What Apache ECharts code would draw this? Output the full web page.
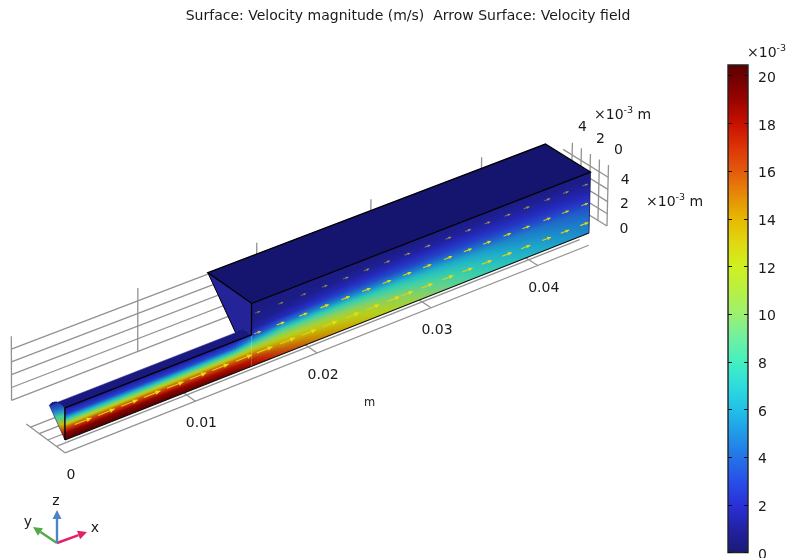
<!DOCTYPE html>
<html><head><meta charset="utf-8">
<style>html,body{margin:0;padding:0;background:#fff}#c{width:788px;height:558px}</style>
<script src="https://cdn.jsdelivr.net/npm/echarts@6/dist/echarts.min.js"></script>
</head><body><div id="c"></div>
<script>
// ---- data (lengths in mm, velocity in 10^-3 m/s)
const titleText = 'Surface: Velocity magnitude (m/s)  Arrow Surface: Velocity field';
const xTickValues = [0, 10, 20, 30, 40];
const xTickLabels = ['0', '0.01', '0.02', '0.03', '0.04'];
const yTickValues = [0, 2, 4];
const yTickLabels = ['0', '2', '4'];
const zTickValues = [0, 2, 4];
const zTickLabels = ['0', '2', '4'];
const barTicks = [0, 2, 4, 6, 8, 10, 12, 14, 16, 18, 20];
const barMax = 20.45;
const paletteValues = [0, 1, 2, 3, 4, 5, 6, 7, 8, 9, 10, 11, 12, 13, 14, 15, 16, 17, 18, 19, 20, 20.45];
const paletteColors = ['#1a1a78','#2222a4','#2a30d8','#2850e8','#2474e8','#209ae8','#22c0e8','#2edcdc','#44f0c0','#70f0a0','#9cf070','#b8f044','#d0f020','#e0d810','#e6b800','#e68a08','#e45a0c','#dc3406','#c81000','#980400','#6e0000','#5c0000'];
const fieldX = [0, 3, 8, 13, 14.5, 17, 20, 23, 26, 30, 34, 38, 42, 45];
const fieldZ = [0, 0.5, 1, 1.5, 2, 2.5, 3, 3.5, 4, 4.5, 5];
const fieldValues = [
 [20.4,19,15.5,8.5,2.8,1,1,1,1,1,1],
 [20.4,19,15.5,8.5,2.8,1,1,1,1,1,1],
 [20.3,18.8,15.3,8.5,2.8,1,1,1,1,1,1],
 [19.5,18,15,9,3.5,1.3,1,1,1,1,1],
 [18.6,17.5,14.8,10.5,6,2.5,1.2,0.9,0.8,0.7,0.7],
 [16.8,15.5,13.5,11,8,4.3,2,1.2,0.8,0.7,0.7],
 [15,14,12.5,10.5,8,4.9,2.6,1.6,1,0.8,0.7],
 [13.7,12.8,11.4,9.8,7.8,5,3,1.9,1.2,0.8,0.7],
 [12.2,11.3,10.2,8.8,7.3,5,3.1,2.1,1.3,0.9,0.7],
 [10,9.3,8.6,7.6,6.5,4.7,3.1,2.2,1.4,1,0.8],
 [8.2,7.7,7.2,6.5,5.6,4.2,2.9,2.1,1.4,1,0.8],
 [7,6.5,6,5.4,4.8,3.6,2.6,1.9,1.4,1,0.8],
 [5.9,5.5,5.1,4.6,4.1,3.1,2.3,1.7,1.3,0.9,0.7],
 [5.1,4.8,4.5,4,3.5,2.7,2,1.5,1.1,0.8,0.7]
];
const inletValues = [1.5, 4, 8, 13, 17, 20];
const arrowRowZ = [0.9, 2.5, 4.1];
const arrowXLow = [1.35,3.1,4.85,6.6,8.4,10.2,12,13.9,15.6,17.5,19.3,21.1,23,24.8,26.6,27.8,29.6,31.5,33.3,35.1,37,38.8,40.8,42.6,44.5];
const arrowXHigh = [15,16.9,18.8,20.6,22.4,24.2,26,27.8,29.6,31.5,33.3,35.1,37,38.8,40.8,42.6,44.5];
const channelArc = [[0,2.5],[0.5,2.56],[1,2.47],[1.5,2.16],[1.8,1.8]];
const stepX = 14.5, lengthX = 45, channelZ = 2.5, bodyZ = 5, bodyY = 5;
const floorYLines = [0,1,2,3,4];
const wallZLines = [0,1,2,3,4];
const wallTickX = [0, 9.7, 19.45, 29.45, 39.8];
const endWallY = [0,1,2,3,4];
const surfaceShade = 0.87;

// ---- view of the 3D scene
function project(x, y, z) {
  const w = 1 + 0.00356 * x;
  return [
    65 + 13.51 * x / w + (-0.05 + 0.0075 * x) * z + y * (-8.62 - 0.0085 * x),
    440 - 5.336 * x / w - (12.82 - 0.0138 * x) * z + y * (-6.4 + 0.0177 * x)
  ];
}
function hexRgb(h) { return [1,3,5].map(i => parseInt(h.substr(i,2),16)); }
function rgbOf(v) {
  const P = paletteValues;
  if (v <= P[0]) return hexRgb(paletteColors[0]);
  for (let i = 1; i < P.length; i++) if (v <= P[i]) {
    const t = (v - P[i-1]) / (P[i] - P[i-1]), a = hexRgb(paletteColors[i-1]), b = hexRgb(paletteColors[i]);
    return a.map((c,k) => c + (b[k]-c)*t);
  }
  return hexRgb(paletteColors[P.length-1]);
}
function colorOf(v) { return 'rgb(' + rgbOf(v).map(c => Math.round(c*surfaceShade)).join(',') + ')'; }
function sample(x, z) {
  let i = 0; while (i < fieldX.length-2 && x > fieldX[i+1]) i++;
  let j = 0; while (j < fieldZ.length-2 && z > fieldZ[j+1]) j++;
  const tx = Math.min(1,(x-fieldX[i])/(fieldX[i+1]-fieldX[i])), tz = Math.min(1,(z-fieldZ[j])/(fieldZ[j+1]-fieldZ[j]));
  const F = fieldValues;
  return (F[i][j]*(1-tz)+F[i][j+1]*tz)*(1-tx) + (F[i+1][j]*(1-tz)+F[i+1][j+1]*tz)*tx;
}
const G = echarts.graphic;
function c3(api, p) { return api.coord(project(p[0], p[1], p[2])); }
function grad(p0, p1, stops) { return new G.LinearGradient(p0[0],p0[1],p1[0],p1[1],stops,true); }

// grid segments in model coordinates
const gridSegments = [];
floorYLines.forEach(y => gridSegments.push([[0,y,-1],[lengthX,y,-1]]));
xTickValues.forEach(x => gridSegments.push([[x,0,-1],[x,4.5,-1]]));
const wallY = 6.2;
wallZLines.forEach(z => gridSegments.push([[0,wallY,z],[44,wallY,z]]));
wallTickX.forEach(x => gridSegments.push([[x,wallY,0],[x,wallY,bodyZ]]));
const endX = 46.8;
wallZLines.forEach(z => gridSegments.push([[endX,0,z],[endX,bodyY,z]]));
endWallY.forEach(y => gridSegments.push([[endX,y,0],[endX,y,bodyZ]]));

// colour strips of the front face
const stripX = [];
for (let x = 0; x < lengthX; x += 0.25) stripX.push(x);
function renderStrip(params, api) {
  const x0 = stripX[params.dataIndex];
  const x1 = Math.min(lengthX, x0 + 0.4);
  const topZ = x0 < stepX ? channelZ : bodyZ;
  const clipX1 = x0 < stepX ? Math.min(stepX, x1) : x1;
  const N = 20, stops = [];
  for (let k = 0; k <= N; k++) stops.push({offset:k/N, color:colorOf(sample(x0+0.125, topZ*k/N))});
  const a = c3(api,[x0,0,0]), b = c3(api,[clipX1,0,0]), c = c3(api,[clipX1,0,topZ]), d = c3(api,[x0,0,topZ]);
  // gradient normal to the long edges so colour bands stay parallel to them
  const ex = c3(api,[x0+1,0,0]), tx = ex[0]-a[0], ty = ex[1]-a[1], tn = Math.hypot(tx,ty);
  const nx = -ty/tn, ny = tx/tn, dd = (d[0]-a[0])*nx + (d[1]-a[1])*ny;
  return {type:'polygon', shape:{points:[a,b,c,d]}, style:{fill:grad(a,[a[0]+nx*dd,a[1]+ny*dd],stops)}};
}
function renderGrid(params, api) {
  const s = gridSegments[params.dataIndex], a = c3(api,s[0]), b = c3(api,s[1]);
  return {type:'line', shape:{x1:a[0],y1:a[1],x2:b[0],y2:b[1]}, style:{stroke:'#929292',lineWidth:1.3}};
}
function renderBody(params, api) {
  const P = pts => pts.map(p => c3(api,p));
  const K = [];
  // inlet face
  const inletArc = channelArc.map(q => [0,q[0],q[1]]);
  const apex = c3(api,[0,0,0]), topArc = c3(api,[0,1.2,2.4]);
  K.push({type:'polygon',shape:{points:P([[0,0,0]].concat(inletArc))},
    style:{fill:grad(topArc,apex,inletValues.map((v,i)=>({offset:i/(inletValues.length-1),color:colorOf(v)}))),stroke:'#1a1a60',lineWidth:0.6}});
  // step face
  const stepArc = channelArc.map(q => [stepX,q[0],q[1]]);
  K.push({type:'polygon',shape:{points:P([[stepX,0,bodyZ],[stepX,bodyY,bodyZ]].concat(stepArc.slice().reverse()))},style:{fill:'#242498',stroke:'#242498',lineWidth:0.5}});
  // channel top
  const farArc = channelArc.map(q => [stepX,q[0],q[1]]).reverse();
  K.push({type:'polygon',shape:{points:P(inletArc.concat(farArc))},style:{fill:'#191980',stroke:'#191980',lineWidth:0.5}});
  // top of the wide part
  K.push({type:'polygon',shape:{points:P([[stepX,0,bodyZ],[lengthX,0,bodyZ],[lengthX,bodyY,bodyZ],[stepX,bodyY,bodyZ]])},style:{fill:'#15156f'}});
  return {type:'group',children:K};
}
function renderEdges(params, api) {
  const P = pts => pts.map(p => c3(api,p));
  const K = [];
  const line = (pts,col,w) => K.push({type:'polyline',shape:{points:P(pts)},style:{fill:null,stroke:col,lineWidth:w}});
  line([[0,0,0],[lengthX,0,0]],'#111',1.1);
  line([[0,0,0],[0,0,channelZ],[stepX,0,channelZ],[stepX,0,bodyZ],[lengthX,0,bodyZ],[lengthX,bodyY,bodyZ],[stepX,bodyY,bodyZ],[stepX,0,bodyZ]],'#000',1.3);
  line([[stepX,bodyY,bodyZ],[stepX,1.8,1.8]],'#000',1);
  line([[lengthX,0,0],[lengthX,0,bodyZ]],'#14145a',0.8);
  return {type:'group',children:K};
}
// arrows
const arrows = [];
arrowRowZ.forEach((z,r) => {
  (r === 0 ? arrowXLow : arrowXHigh).forEach(x => arrows.push([x,z]));
});
function renderArrow(params, api) {
  const q = arrows[params.dataIndex], u = sample(q[0], q[1]);
  const c = c3(api,[q[0],0,q[1]]), e = c3(api,[q[0]+1,0,q[1]]);
  const dx = e[0]-c[0], dy = e[1]-c[1], n = Math.hypot(dx,dy), ux = dx/n, uy = dy/n;
  const len = 5 + 0.8*u, hl = Math.min(5, 1.5+len*0.22), hw = Math.min(2.2, 0.8+len*0.1);
  const tail = [c[0]-ux*len/2, c[1]-uy*len/2], tip = [c[0]+ux*len/2, c[1]+uy*len/2];
  const back = [tip[0]-ux*hl, tip[1]-uy*hl];
  const alpha = Math.min(1, 0.2 + u*0.2);
  return {type:'group',children:[
    {type:'line',shape:{x1:tail[0],y1:tail[1],x2:tip[0],y2:tip[1]},style:{stroke:'#e0d018',lineWidth:1.1,opacity:alpha}},
    {type:'polygon',shape:{points:[tip,[back[0]-uy*hw,back[1]+ux*hw],[back[0]+uy*hw,back[1]-ux*hw]]},style:{fill:'#ecdc10',opacity:alpha}}
  ]};
}
// labels
const labelItems = [];
xTickValues.forEach((x,i) => labelItems.push({t:xTickLabels[i],p:[x,0,-1],off:[6,22.5]}));
yTickValues.forEach((y,i) => labelItems.push({t:yTickLabels[i],p:[endX,y,bodyZ],off:[10,-15]}));
zTickValues.forEach((z,i) => labelItems.push({t:zTickLabels[i],p:[endX,0,z],off:[17,3]}));
function renderLabel(params, api) {
  const L = labelItems[params.dataIndex], a = c3(api,L.p);
  return {type:'text',style:{text:L.t,x:a[0]+L.off[0],y:a[1]+L.off[1],align:'center',verticalAlign:'middle',font:'14px "DejaVu Sans"',fill:'#1a1a1a'}};
}
// orientation triad
const triad = [
 {name:'x',color:'#e2206a',to:[30,-11],lab:[38,-15]},
 {name:'y',color:'#55a84a',to:[-24,-16],lab:[-29,-21]},
 {name:'z',color:'#4a86c4',to:[0,-33],lab:[-1,-42]}
];
const triadOrigin = [57,543];
function renderTriad(params, api) {
  const T = triad[params.dataIndex], O = api.coord(triadOrigin);
  const tip = [O[0]+T.to[0],O[1]+T.to[1]], n = Math.hypot(T.to[0],T.to[1]), ux=T.to[0]/n, uy=T.to[1]/n;
  const b = [tip[0]-ux*9,tip[1]-uy*9], hw=4.5;
  return {type:'group',children:[
    {type:'line',shape:{x1:O[0],y1:O[1],x2:b[0],y2:b[1]},style:{stroke:T.color,lineWidth:2.4}},
    {type:'polygon',shape:{points:[tip,[b[0]-uy*hw,b[1]+ux*hw],[b[0]+uy*hw,b[1]-ux*hw]]},style:{fill:T.color}},
    {type:'text',style:{text:T.name,x:O[0]+T.lab[0],y:O[1]+T.lab[1],align:'center',verticalAlign:'middle',font:'14px "DejaVu Sans"',fill:'#1a1a1a'}}
  ]};
}
function renderBar(params, api) {
  const a = api.coord([0,barMax]), b = api.coord([1,0]);
  const stops = paletteValues.map((v,i) => ({offset:v/barMax,color:paletteColors[i]}));
  return {type:'rect',shape:{x:a[0],y:a[1],width:b[0]-a[0],height:b[1]-a[1]},
    style:{fill:new G.LinearGradient(0,b[1],0,a[1],stops,true),stroke:'#222',lineWidth:1.4}};
}
const sceneSeries = (name, n, fn) => ({type:'custom',name,coordinateSystem:'cartesian2d',xAxisIndex:0,yAxisIndex:0,
  renderItem:fn,data:Array.from({length:n},(_, i)=>[i]),clip:false,silent:true,animation:false,encode:{x:0,y:0}});
const unitRich = {b:{fontSize:14,fontFamily:'DejaVu Sans',color:'#1a1a1a'},s:{fontSize:9.5,fontFamily:'DejaVu Sans',color:'#1a1a1a',padding:[0,0,8,0]}};
const unitText = (x,y,str) => ({type:'text',left:x,top:y,style:{text:str,rich:unitRich,fill:'#1a1a1a'}});
const option = {
  animation:false,
  backgroundColor:'#fff',
  title:{text:titleText,left:403,top:4,textAlign:'center',textStyle:{fontFamily:'DejaVu Sans',fontSize:14,fontWeight:'normal',color:'#1a1a1a'}},
  grid:[
    {left:0,top:0,width:788,height:558,outerBoundsMode:'none'},
    {left:728,top:65,width:20,height:487.5,outerBoundsMode:'none'}
  ],
  xAxis:[
    {type:'value',min:0,max:788,show:false,gridIndex:0},
    {type:'value',min:0,max:1,show:false,gridIndex:1}
  ],
  yAxis:[
    {type:'value',min:0,max:558,inverse:true,show:false,gridIndex:0},
    {type:'value',gridIndex:1,min:0,max:barMax,interval:2,position:'left',z:5,axisLine:{show:false},splitLine:{show:false},axisLabel:{show:false},axisTick:{inside:true,length:4,lineStyle:{color:'#111',width:1},customValues:barTicks}},
    {type:'value',gridIndex:1,min:0,max:barMax,interval:2,position:'right',z:5,axisLine:{show:false},splitLine:{show:false},
     axisTick:{inside:true,length:4,lineStyle:{color:'#111',width:1},customValues:barTicks},
     axisLabel:{margin:10,customValues:barTicks,formatter:'{a|{value}}',rich:{a:{fontFamily:'DejaVu Sans',fontSize:14,color:'#1a1a1a',padding:[5,0,0,0]}}}}
  ],
  graphic:{elements:[
    unitText(594,106,'{b|×10}{s|-3}{b| m}'),
    unitText(646,193,'{b|×10}{s|-3}{b| m}'),
    unitText(747,44,'{b|×10}{s|-3}'),
    {type:'text',left:364,top:397,style:{text:'m',font:'11.5px "DejaVu Sans"',fill:'#1a1a1a'}}
  ]},
  series:[
    sceneSeries('grid',gridSegments.length,renderGrid),
    sceneSeries('body',1,renderBody),
    sceneSeries('surface',stripX.length,renderStrip),
    sceneSeries('edges',1,renderEdges),
    sceneSeries('arrows',arrows.length,renderArrow),
    sceneSeries('labels',labelItems.length,renderLabel),
    sceneSeries('triad',triad.length,renderTriad),
    {type:'custom',name:'colorbar',xAxisIndex:1,yAxisIndex:1,renderItem:renderBar,data:[[0,0]],silent:true,animation:false,clip:false}
  ]
};
const chart = echarts.init(document.getElementById('c'),null,{renderer:'canvas'});
chart.setOption(option);
</script></body></html>
